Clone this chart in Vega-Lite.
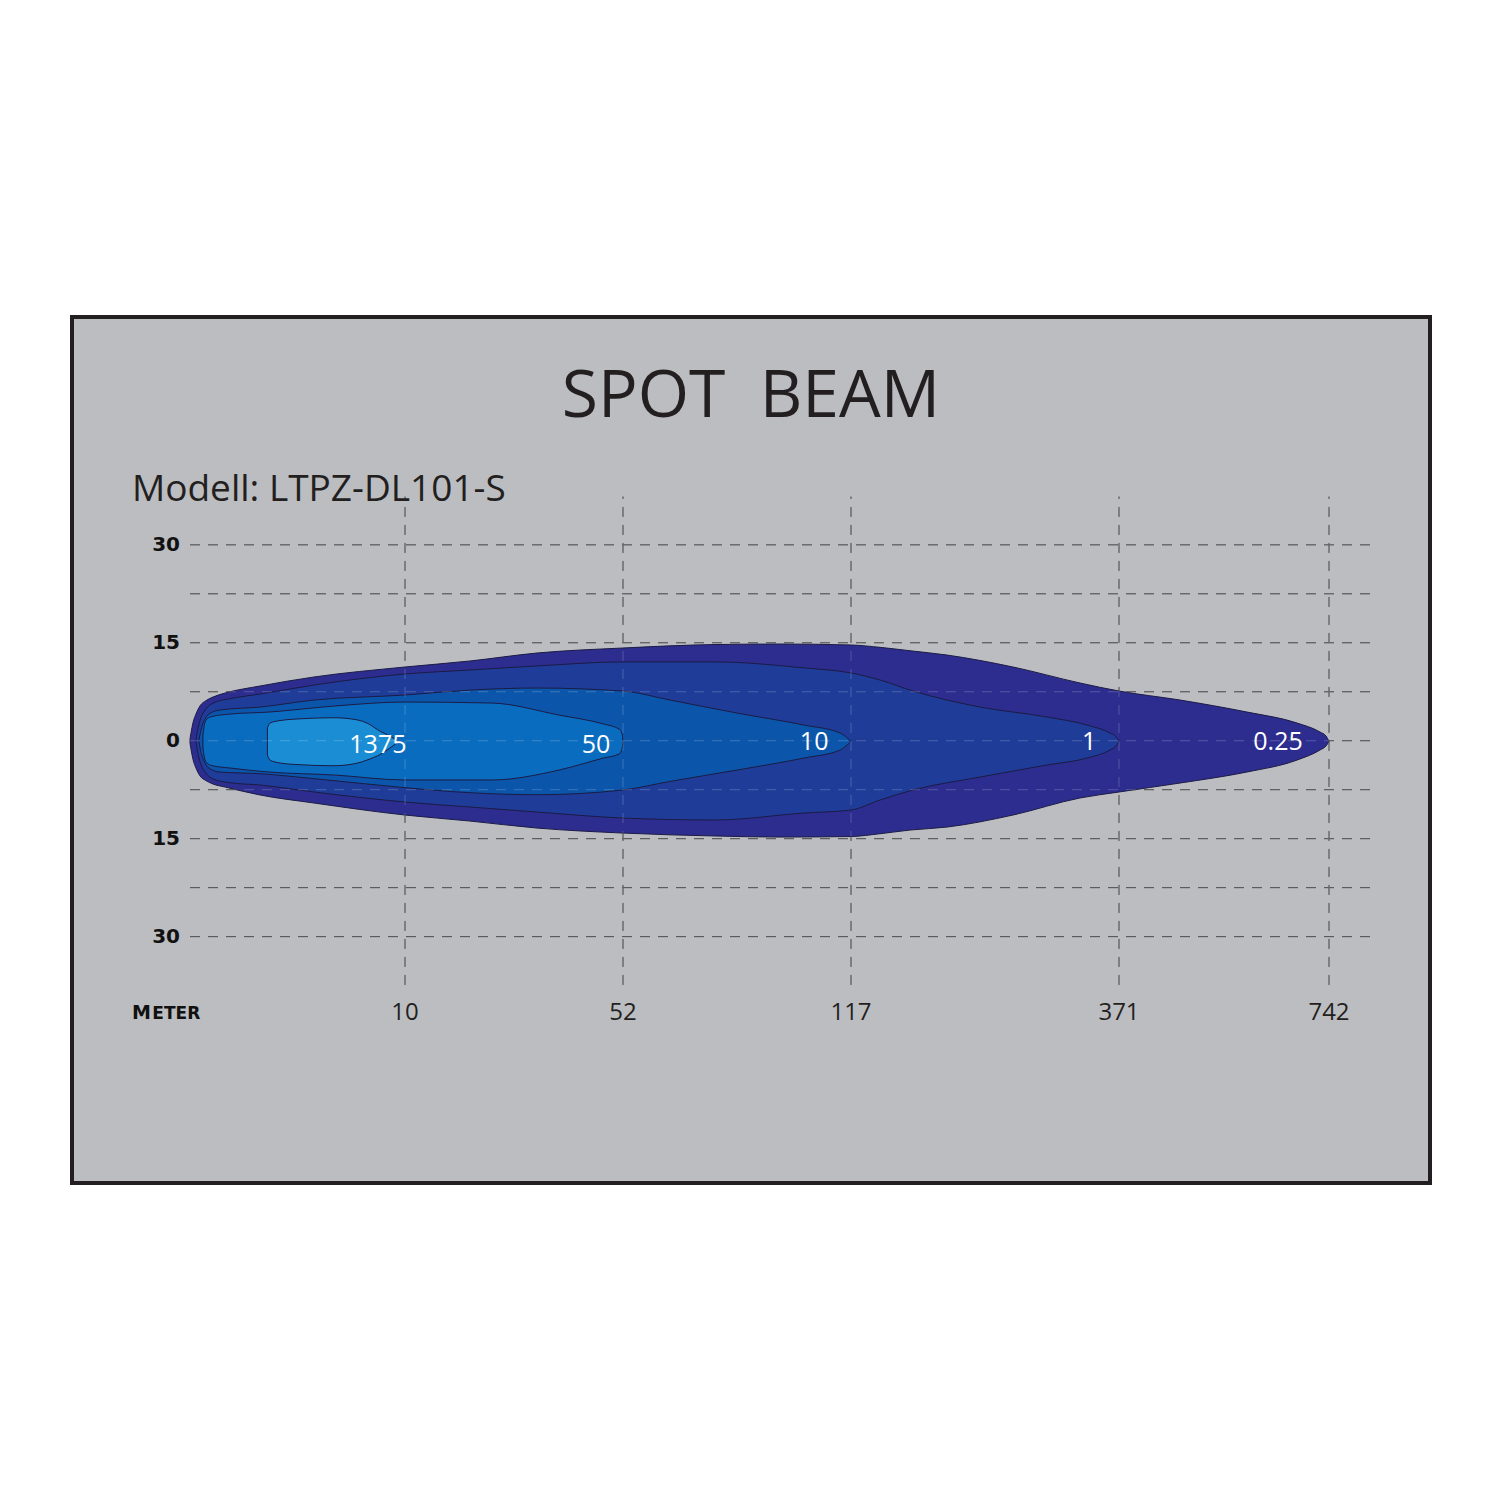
{
  "$schema": "https://vega.github.io/schema/vega-lite/v6.json",
  "width": 1358,
  "height": 866,
  "autosize": {"type": "none"},
  "padding": {"left": 72, "top": 317, "right": 70, "bottom": 317},
  "background": "#ffffff",
  "config": {"view": {"fill": "#bcbdc1", "stroke": "#231f20", "strokeWidth": 4}},
  "title": {"text": "SPOT \u00a0BEAM", "anchor": "middle", "frame": "group", "offset": -166, "baseline": "alphabetic", "font": "Open Sans", "fontSize": 66, "fontWeight": "normal", "color": "#231f20"},
  "datasets": {
    "hgrid": [{"y": -30}, {"y": -22.5}, {"y": -15}, {"y": -7.5}, {"y": 0}, {"y": 7.5}, {"y": 15}, {"y": 22.5}, {"y": 30}],
    "vgrid": [{"x": 10}, {"x": 52}, {"x": 117}, {"x": 371}, {"x": 742}],
    "xticks": [{"x": 10, "label": "10"}, {"x": 52, "label": "52"}, {"x": 117, "label": "117"}, {"x": 371, "label": "371"}, {"x": 742, "label": "742"}],
    "yticks": [{"y": 30, "label": "30"}, {"y": 15, "label": "15"}, {"y": 0, "label": "0"}, {"y": -15, "label": "15"}, {"y": -30, "label": "30"}],
    "beam": [
      {"level": "0.25", "x": 0, "top": 0.3, "bot": -0.4},
      {"level": "0.25", "x": 0.047, "top": 1.2, "bot": -1.3},
      {"level": "0.25", "x": 0.14, "top": 2.76, "bot": -2.86},
      {"level": "0.25", "x": 0.28, "top": 4.1, "bot": -4.2},
      {"level": "0.25", "x": 0.47, "top": 5.36, "bot": -5.4},
      {"level": "0.25", "x": 0.74, "top": 6.13, "bot": -6.1},
      {"level": "0.25", "x": 1.07, "top": 6.69, "bot": -6.63},
      {"level": "0.25", "x": 1.63, "top": 7.3, "bot": -7.09},
      {"level": "0.25", "x": 3.26, "top": 8.38, "bot": -8.31},
      {"level": "0.25", "x": 5.77, "top": 9.76, "bot": -9.54},
      {"level": "0.25", "x": 10, "top": 11.29, "bot": -11.38},
      {"level": "0.25", "x": 22.52, "top": 12.21, "bot": -12.3},
      {"level": "0.25", "x": 35.43, "top": 13.43, "bot": -13.37},
      {"level": "0.25", "x": 52, "top": 14.2, "bot": -14.14},
      {"level": "0.25", "x": 78.23, "top": 14.73, "bot": -14.59},
      {"level": "0.25", "x": 96.76, "top": 14.81, "bot": -14.75},
      {"level": "0.25", "x": 117, "top": 14.66, "bot": -14.67},
      {"level": "0.25", "x": 144.5, "top": 14.3, "bot": -14.24},
      {"level": "0.25", "x": 172.9, "top": 13.78, "bot": -13.68},
      {"level": "0.25", "x": 208, "top": 13.12, "bot": -13.22},
      {"level": "0.25", "x": 270.5, "top": 11.29, "bot": -11.38},
      {"level": "0.25", "x": 334, "top": 8.84, "bot": -8.77},
      {"level": "0.25", "x": 371, "top": 7.61, "bot": -7.85},
      {"level": "0.25", "x": 478.8, "top": 6.23, "bot": -6.48},
      {"level": "0.25", "x": 597.1, "top": 4.39, "bot": -4.79},
      {"level": "0.25", "x": 685.5, "top": 2.71, "bot": -2.96},
      {"level": "0.25", "x": 726.1, "top": 1.33, "bot": -1.42},
      {"level": "0.25", "x": 736.7, "top": 0.72, "bot": -0.8},
      {"level": "0.25", "x": 742, "top": -0.1, "bot": -0.1},
      {"level": "1", "x": 0.28, "top": 0.1, "bot": -0.2},
      {"level": "1", "x": 0.33, "top": 1.18, "bot": -1.28},
      {"level": "1", "x": 0.42, "top": 2.55, "bot": -2.65},
      {"level": "1", "x": 0.56, "top": 3.93, "bot": -4.03},
      {"level": "1", "x": 0.74, "top": 4.85, "bot": -4.95},
      {"level": "1", "x": 1.07, "top": 5.77, "bot": -5.87},
      {"level": "1", "x": 1.86, "top": 6.43, "bot": -6.43},
      {"level": "1", "x": 3.26, "top": 7.15, "bot": -6.78},
      {"level": "1", "x": 5.77, "top": 8.53, "bot": -7.85},
      {"level": "1", "x": 10, "top": 10.22, "bot": -9.39},
      {"level": "1", "x": 22.52, "top": 10.83, "bot": -10.15},
      {"level": "1", "x": 35.43, "top": 11.45, "bot": -10.92},
      {"level": "1", "x": 52, "top": 12.07, "bot": -11.84},
      {"level": "1", "x": 78.23, "top": 12.07, "bot": -12.14},
      {"level": "1", "x": 103.6, "top": 11.15, "bot": -11.07},
      {"level": "1", "x": 117, "top": 10.38, "bot": -10.61},
      {"level": "1", "x": 144.5, "top": 9.3, "bot": -9.08},
      {"level": "1", "x": 175.8, "top": 7.61, "bot": -7.54},
      {"level": "1", "x": 239.3, "top": 5.16, "bot": -5.56},
      {"level": "1", "x": 302.8, "top": 3.63, "bot": -3.72},
      {"level": "1", "x": 340.7, "top": 2.4, "bot": -2.65},
      {"level": "1", "x": 362.5, "top": 1.18, "bot": -1.42},
      {"level": "1", "x": 368.2, "top": 0.6, "bot": -0.8},
      {"level": "1", "x": 371, "top": -0.1, "bot": -0.1},
      {"level": "10", "x": 0.42, "top": 0.05, "bot": -0.15},
      {"level": "10", "x": 0.47, "top": 1.02, "bot": -1.12},
      {"level": "10", "x": 0.56, "top": 2.25, "bot": -2.35},
      {"level": "10", "x": 0.7, "top": 3.32, "bot": -3.42},
      {"level": "10", "x": 0.88, "top": 4.08, "bot": -4.18},
      {"level": "10", "x": 1.4, "top": 4.7, "bot": -4.8},
      {"level": "10", "x": 3.26, "top": 5.16, "bot": -5.05},
      {"level": "10", "x": 5.77, "top": 6.23, "bot": -5.81},
      {"level": "10", "x": 10, "top": 7.0, "bot": -7.19},
      {"level": "10", "x": 22.52, "top": 7.76, "bot": -7.96},
      {"level": "10", "x": 35.43, "top": 8.07, "bot": -8.27},
      {"level": "10", "x": 52, "top": 7.61, "bot": -7.54},
      {"level": "10", "x": 65.4, "top": 6.23, "bot": -6.23},
      {"level": "10", "x": 84.5, "top": 4.24, "bot": -4.49},
      {"level": "10", "x": 103.6, "top": 2.4, "bot": -2.65},
      {"level": "10", "x": 113.9, "top": 1.18, "bot": -1.42},
      {"level": "10", "x": 117, "top": -0.1, "bot": -0.1},
      {"level": "50", "x": 0.6, "top": 0.87, "bot": -0.97},
      {"level": "50", "x": 0.65, "top": 2.09, "bot": -2.19},
      {"level": "50", "x": 0.7, "top": 2.86, "bot": -2.96},
      {"level": "50", "x": 0.79, "top": 3.32, "bot": -3.42},
      {"level": "50", "x": 1.02, "top": 3.7, "bot": -3.8},
      {"level": "50", "x": 1.86, "top": 4.08, "bot": -4.18},
      {"level": "50", "x": 3.67, "top": 4.39, "bot": -4.79},
      {"level": "50", "x": 6.7, "top": 5.31, "bot": -5.25},
      {"level": "50", "x": 10, "top": 5.93, "bot": -6.01},
      {"level": "50", "x": 26.76, "top": 5.77, "bot": -6.01},
      {"level": "50", "x": 39.67, "top": 3.93, "bot": -4.49},
      {"level": "50", "x": 48.24, "top": 2.56, "bot": -2.65},
      {"level": "50", "x": 51.23, "top": 1.79, "bot": -2.04},
      {"level": "50", "x": 51.8, "top": 1.1, "bot": -1.3},
      {"level": "50", "x": 52, "top": -0.1, "bot": -0.1},
      {"level": "1375", "x": 3.6, "top": 1.94, "bot": -2.19},
      {"level": "1375", "x": 3.72, "top": 2.71, "bot": -2.96},
      {"level": "1375", "x": 4.19, "top": 3.09, "bot": -3.41},
      {"level": "1375", "x": 4.93, "top": 3.32, "bot": -3.64},
      {"level": "1375", "x": 6.7, "top": 3.52, "bot": -3.83},
      {"level": "1375", "x": 7.81, "top": 3.17, "bot": -3.41},
      {"level": "1375", "x": 8.23, "top": 2.71, "bot": -2.96},
      {"level": "1375", "x": 8.88, "top": 1.38, "bot": -2.04},
      {"level": "1375", "x": 9.3, "top": 0.72, "bot": -1.12},
      {"level": "1375", "x": 9.7, "top": -0.15, "bot": -0.15}
    ],
    "labels": [
      {"label": "1375", "x": 8.74, "y": -0.72},
      {"label": "50", "x": 46.8, "y": -0.72},
      {"label": "10", "x": 106.5, "y": -0.26},
      {"label": "1", "x": 342.6, "y": -0.26},
      {"label": "0.25", "x": 651.9, "y": -0.26}
    ],
    "model": [{"text": "Modell: LTPZ-DL101-S", "x": -2.7, "y": 36.71}],
    "unitM": [{"text": "M", "x": -2.7, "y": -42.6}],
    "unitRest": [{"text": "ETER", "x": -1.75, "y": -42.6}]
  },
  "layer": [
    {
      "data": {"name": "hgrid"},
      "mark": {"type": "rule", "color": "#262626", "strokeWidth": 1, "strokeDash": [10, 8]},
      "encoding": {
        "y": {"field": "y", "type": "quantitative", "scale": {"type": "linear", "domain": [-67.73, 64.89], "nice": false, "zero": false}, "axis": null},
        "x": {"datum": 0, "type": "quantitative", "scale": {"type": "linear", "domain": [-5.488, 0, 10, 52, 117, 371, 742, 920.4], "range": [0, 118, 333, 551, 779, 1047, 1257, 1358], "nice": false, "zero": false}, "axis": null},
        "x2": {"datum": 818}
      }
    },
    {
      "data": {"name": "vgrid"},
      "mark": {"type": "rule", "color": "#262626", "strokeWidth": 1, "strokeDash": [10, 8]},
      "encoding": {
        "x": {"field": "x", "type": "quantitative", "axis": null},
        "y": {"datum": -37.4, "type": "quantitative", "axis": null},
        "y2": {"datum": 37.4}
      }
    },
    {
      "data": {"name": "beam"},
      "transform": [{"filter": "datum.level === '0.25'"}],
      "mark": {"type": "area", "orient": "vertical", "interpolate": "monotone", "fill": "#2d2d90", "stroke": "#1b1b45", "strokeWidth": 1},
      "encoding": {
        "x": {"field": "x", "type": "quantitative", "axis": null},
        "y": {"field": "top", "type": "quantitative", "axis": null},
        "y2": {"field": "bot"}
      }
    },
    {
      "data": {"name": "beam"},
      "transform": [{"filter": "datum.level === '1'"}],
      "mark": {"type": "area", "orient": "vertical", "interpolate": "monotone", "fill": "#1f3d98", "stroke": "#1b1b45", "strokeWidth": 1},
      "encoding": {
        "x": {"field": "x", "type": "quantitative", "axis": null},
        "y": {"field": "top", "type": "quantitative", "axis": null},
        "y2": {"field": "bot"}
      }
    },
    {
      "data": {"name": "beam"},
      "transform": [{"filter": "datum.level === '10'"}],
      "mark": {"type": "area", "orient": "vertical", "interpolate": "monotone", "fill": "#0b56aa", "stroke": "#1b1b45", "strokeWidth": 1},
      "encoding": {
        "x": {"field": "x", "type": "quantitative", "axis": null},
        "y": {"field": "top", "type": "quantitative", "axis": null},
        "y2": {"field": "bot"}
      }
    },
    {
      "data": {"name": "beam"},
      "transform": [{"filter": "datum.level === '50'"}],
      "mark": {"type": "area", "orient": "vertical", "interpolate": "monotone", "fill": "#0a6cbf", "stroke": "#1b1b45", "strokeWidth": 1},
      "encoding": {
        "x": {"field": "x", "type": "quantitative", "axis": null},
        "y": {"field": "top", "type": "quantitative", "axis": null},
        "y2": {"field": "bot"}
      }
    },
    {
      "data": {"name": "beam"},
      "transform": [{"filter": "datum.level === '1375'"}],
      "mark": {"type": "area", "orient": "vertical", "interpolate": "monotone", "fill": "#1a8dd4", "stroke": "#1b1b45", "strokeWidth": 1},
      "encoding": {
        "x": {"field": "x", "type": "quantitative", "axis": null},
        "y": {"field": "top", "type": "quantitative", "axis": null},
        "y2": {"field": "bot"}
      }
    },
    {
      "data": {"name": "hgrid"},
      "mark": {"type": "rule", "color": "#ffffff", "opacity": 0.2, "strokeWidth": 1, "strokeDash": [10, 8]},
      "encoding": {
        "y": {"field": "y", "type": "quantitative", "axis": null},
        "x": {"datum": 0, "type": "quantitative", "axis": null},
        "x2": {"datum": 818}
      }
    },
    {
      "data": {"name": "vgrid"},
      "mark": {"type": "rule", "color": "#ffffff", "opacity": 0.2, "strokeWidth": 1, "strokeDash": [10, 8]},
      "encoding": {
        "x": {"field": "x", "type": "quantitative", "axis": null},
        "y": {"datum": -37.4, "type": "quantitative", "axis": null},
        "y2": {"datum": 37.4}
      }
    },
    {
      "data": {"name": "labels"},
      "mark": {"type": "text", "color": "#ffffff", "font": "Open Sans", "fontSize": 25, "align": "center", "baseline": "middle"},
      "encoding": {
        "x": {"field": "x", "type": "quantitative", "axis": null},
        "y": {"field": "y", "type": "quantitative", "axis": null},
        "text": {"field": "label"}
      }
    },
    {
      "data": {"name": "xticks"},
      "mark": {"type": "text", "color": "#231f20", "font": "Open Sans", "fontSize": 24, "align": "center", "baseline": "alphabetic"},
      "encoding": {
        "x": {"field": "x", "type": "quantitative", "axis": null},
        "y": {"datum": -42.77, "type": "quantitative", "axis": null},
        "text": {"field": "label"}
      }
    },
    {
      "data": {"name": "yticks"},
      "mark": {"type": "text", "color": "#111111", "font": "DejaVu Sans", "fontWeight": "bold", "fontSize": 20, "align": "right", "baseline": "middle"},
      "encoding": {
        "x": {"datum": -0.465, "type": "quantitative", "axis": null},
        "y": {"field": "y", "type": "quantitative", "axis": null},
        "text": {"field": "label"}
      }
    },
    {
      "data": {"name": "model"},
      "mark": {"type": "text", "color": "#231f20", "font": "Open Sans", "fontSize": 37, "align": "left", "baseline": "alphabetic"},
      "encoding": {
        "x": {"field": "x", "type": "quantitative", "axis": null},
        "y": {"field": "y", "type": "quantitative", "axis": null},
        "text": {"field": "text"}
      }
    },
    {
      "data": {"name": "unitM"},
      "mark": {"type": "text", "color": "#111111", "font": "DejaVu Sans", "fontWeight": "bold", "fontSize": 19, "align": "left", "baseline": "alphabetic"},
      "encoding": {
        "x": {"field": "x", "type": "quantitative", "axis": null},
        "y": {"field": "y", "type": "quantitative", "axis": null},
        "text": {"field": "text"}
      }
    },
    {
      "data": {"name": "unitRest"},
      "mark": {"type": "text", "color": "#111111", "font": "DejaVu Sans", "fontWeight": "bold", "fontSize": 17, "align": "left", "baseline": "alphabetic"},
      "encoding": {
        "x": {"field": "x", "type": "quantitative", "axis": null},
        "y": {"field": "y", "type": "quantitative", "axis": null},
        "text": {"field": "text"}
      }
    }
  ]
}
